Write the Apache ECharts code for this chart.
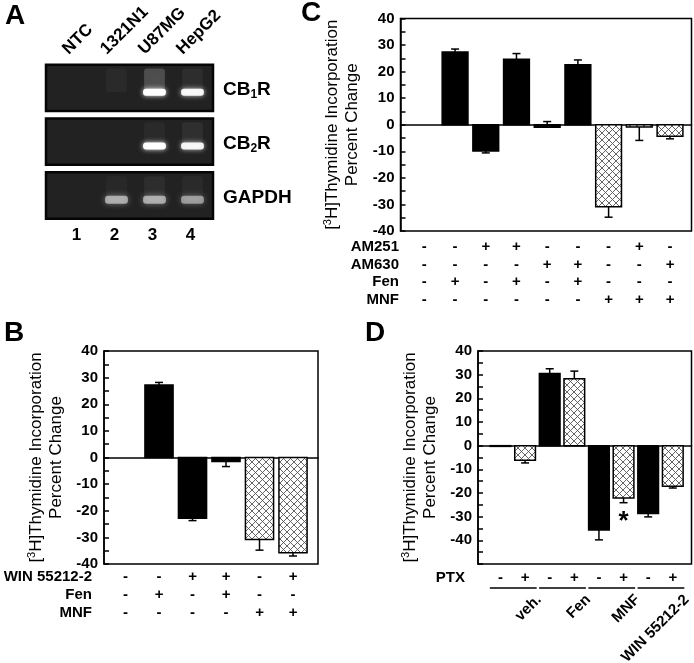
<!DOCTYPE html>
<html><head><meta charset="utf-8">
<script src="https://cdn.jsdelivr.net/npm/echarts@6/dist/echarts.min.js"></script>
<style>html,body{margin:0;padding:0;background:#fff}#c{width:694px;height:663px}</style>
</head><body><div id="c"></div>
<script>
// ---------------- data ----------------
const gelLanes = ['NTC', '1321N1', 'U87MG', 'HepG2'];
const gelLaneNumbers = ['1', '2', '3', '4'];
const gelGenes = ['CB1R', 'CB2R', 'GAPDH'];
const gelBandIntensity = [[0, 0, 1.0, 0.92], [0, 0, 1.0, 0.9], [0, 0.72, 0.72, 0.62]];
const gelSmear = [[0, 0.04, 0.18, 0.05], [0, 0, 0.04, 0.06], [0, 0.03, 0.05, 0.04]];

const bRowNames = ['WIN 55212-2', 'Fen', 'MNF'];
const bSigns = [
  ['-', '-', '+', '+', '-', '+'],
  ['-', '+', '-', '+', '-', '-'],
  ['-', '-', '-', '-', '+', '+']
];
const bValues = [0, 27.2, -22.8, -1.5, -30.8, -35.8];
const bErrorEnds = [0, 28.2, -23.7, -3.4, -34.8, -37.0];

const cRowNames = ['AM251', 'AM630', 'Fen', 'MNF'];
const cSigns = [
  ['-', '-', '+', '+', '-', '-', '-', '+', '-'],
  ['-', '-', '-', '-', '+', '+', '-', '-', '+'],
  ['-', '+', '-', '+', '-', '+', '-', '-', '-'],
  ['-', '-', '-', '-', '-', '-', '+', '+', '+']
];
const cValues = [0, 27.4, -9.9, 24.7, -0.9, 22.6, -30.9, -0.8, -4.3];
const cErrorEnds = [0, 28.5, -10.6, 26.8, 1.2, 24.4, -34.8, -5.9, -5.3];

const dRowNames = ['PTX'];
const dSigns = [['-', '+', '-', '+', '-', '+', '-', '+']];
const dGroups = ['veh.', 'Fen', 'MNF', 'WIN 55212-2'];
const dValues = [-0.3, -6.2, 30.5, 28.3, -35.6, -22.1, -28.7, -17.1];
const dErrorEnds = [-0.3, -7.3, 32.5, 31.5, -39.8, -24.1, -30.1, -17.9];
const dSignificance = ['', '', '', '', '', '*', '', ''];

const yTicksBC = { min: -40, max: 40, interval: 10 };
const yTicksD = { min: -50, max: 40, interval: 10 };

// ---------------- style / layout ----------------
const FONT = "'Liberation Sans', Arial, Helvetica, sans-serif";
const G = {
  A: { left: 46, top: 61, width: 167, height: 161.4 },
  B: { left: 104, top: 351, width: 214, height: 213 },
  C: { left: 400.5, top: 18.5, width: 291, height: 212.5 },
  D: { left: 478, top: 351, width: 213.5, height: 213 }
};
const XR = { A: [0.145, 4.54], B: [0.358, 6.746], C: [0.223, 9.7], D: [0.087, 8.76] };

function makeHatch() {
  const c = document.createElement('canvas');
  c.width = 7; c.height = 7;
  const g = c.getContext('2d');
  g.fillStyle = '#fff'; g.fillRect(0, 0, 7, 7);
  g.strokeStyle = '#555'; g.lineWidth = 0.9;
  g.beginPath();
  g.moveTo(-1, -1); g.lineTo(8, 8);
  g.moveTo(-1, 8); g.lineTo(8, -1);
  g.stroke();
  return c;
}
const hatch = { image: makeHatch(), repeat: 'repeat' };

function barRender(params, api) {
  const x = api.value(0), v = api.value(1), e = api.value(2), h = api.value(3);
  const p0 = api.coord([x, 0]);
  const p1 = api.coord([x, v]);
  const pe = api.coord([x, e]);
  const w = api.size([0.84, 0])[0];
  const ch = [];
  if (e !== v) {
    ch.push({ type: 'line', shape: { x1: p1[0], y1: p1[1], x2: pe[0], y2: pe[1] }, style: { stroke: '#000', lineWidth: 1.5 } });
    ch.push({ type: 'line', shape: { x1: pe[0] - 4, y1: pe[1], x2: pe[0] + 4, y2: pe[1] }, style: { stroke: '#000', lineWidth: 1.5 } });
  }
  if (v !== 0) {
    ch.push({
      type: 'rect',
      shape: { x: p0[0] - w / 2, y: Math.min(p0[1], p1[1]), width: w, height: Math.abs(p1[1] - p0[1]) },
      style: { fill: h ? hatch : '#000', stroke: '#000', lineWidth: 1.5 }
    });
  }
  return { type: 'group', children: ch };
}

function barSeries(gi, values, errs, hatchFlags) {
  return {
    type: 'custom', xAxisIndex: gi, yAxisIndex: gi, z: 3,
    renderItem: barRender,
    encode: { x: 0, y: 1 },
    data: values.map((v, i) => [i + 1, v, errs[i], hatchFlags[i] ? 1 : 0])
  };
}

// +/- table under a panel
function tableSeries(gi, rowNames, signs, yMin, rowStart, rowGap, labelDx, xMin) {
  const data = [];
  signs.forEach((row, r) => row.forEach((s, i) => data.push([i + 1, yMin, r, s, 0])));
  rowNames.forEach((n, r) => data.push([xMin, yMin, r, n, 1]));
  return {
    type: 'custom', xAxisIndex: gi, yAxisIndex: gi, z: 4,
    encode: { x: 0, y: 1 },
    renderItem: function (params, api) {
      const d = data[params.dataIndex];
      const p = api.coord([d[0], d[1]]);
      const y = p[1] + rowStart + d[2] * rowGap;
      if (d[4] === 1) {
        return { type: 'text', x: p[0] + labelDx, y: y, style: { text: d[3], fill: '#000', font: 'bold 15px ' + FONT, align: 'right', verticalAlign: 'middle' } };
      }
      return { type: 'text', x: p[0], y: y, style: { text: d[3], fill: '#000', font: 'bold 15px ' + FONT, align: 'center', verticalAlign: 'middle' } };
    },
    data: data
  };
}

const yName = '{n|[}{sup|3}{n|H]Thymidine Incorporation}\n{n|Percent Change}';
function yAxisFor(gi, t, showName) {
  return {
    type: 'value', gridIndex: gi, min: t.min, max: t.max, interval: t.interval,
    axisLine: { show: true, onZero: false, lineStyle: { color: '#000', width: 1.5 } },
    axisTick: { show: true, inside: true, length: 5, lineStyle: { color: '#000', width: 1.5 } },
    minorTick: { show: true, splitNumber: 2, length: 5, lineStyle: { color: '#000', width: 1.5 } },
    splitLine: { show: false }, minorSplitLine: { show: false },
    axisLabel: {
      show: true, margin: 6, color: '#000', fontSize: 15, fontWeight: 'bold', fontFamily: FONT,
      formatter: v => (v < -40 ? '' : String(v))
    },
    name: showName ? yName : '', nameLocation: 'middle', nameRotate: 90, nameGap: 38,
    nameTextStyle: {
      color: '#000', fontFamily: FONT, fontSize: 17, lineHeight: 20,
      rich: {
        n: { fontSize: 17, fontFamily: FONT, color: '#000', lineHeight: 20 },
        sup: { fontSize: 11, fontFamily: FONT, color: '#000', lineHeight: 20, verticalAlign: 'top' }
      }
    }
  };
}
function xAxisFor(gi, r, show) {
  return {
    type: 'value', gridIndex: gi, min: r[0], max: r[1],
    axisLine: { show: show, onZero: true, lineStyle: { color: '#000', width: 1.5 } },
    axisTick: { show: false }, axisLabel: { show: false }, splitLine: { show: false }
  };
}

// ---------------- gel (panel A) ----------------
const gelBoxData = gelGenes.map((g, r) => [XR.A[0], r + 1]);
const gelBandData = [];
gelBandIntensity.forEach((row, r) => row.forEach((v, l) => gelBandData.push([l + 1, r + 1, v, gelSmear[r][l]])));

const gelSeries = [
  {
    type: 'custom', xAxisIndex: 0, yAxisIndex: 0, z: 2, encode: { x: 0, y: 1 },
    data: gelBoxData,
    renderItem: function (params, api) {
      const cs = params.coordSys;
      const c = api.coord([0, api.value(1)]);
      const hh = api.size([0, 0.86])[1];
      const name = gelGenes[params.dataIndex];
      const m = name.match(/^(CB)(\d)(R)$/);
      const txt = m ? '{g|CB}{s|' + m[2] + '}{g|R}' : '{g|' + name + '}';
      return {
        type: 'group', children: [
          { type: 'rect', shape: { x: cs.x, y: c[1] - hh / 2, width: cs.width, height: hh }, style: { fill: '#222', stroke: '#050505', lineWidth: 2.5 } },
          {
            type: 'text', x: cs.x + cs.width + 10, y: c[1] + 2,
            style: {
              text: txt, fill: '#000', align: 'left', verticalAlign: 'middle',
              rich: {
                g: { fontSize: 19, fontWeight: 'bold', fontFamily: FONT, fill: '#000', lineHeight: 22 },
                s: { fontSize: 12, fontWeight: 'bold', fontFamily: FONT, fill: '#000', lineHeight: 22, padding: [9, 0, 0, 0] }
              }
            }
          }
        ]
      };
    }
  },
  {
    type: 'custom', xAxisIndex: 0, yAxisIndex: 0, z: 3, encode: { x: 0, y: 1 },
    data: gelBandData,
    renderItem: function (params, api) {
      const l = api.value(0), r = api.value(1), v = api.value(2), s = api.value(3);
      const c = api.coord([l, r + 0.08]);
      const top = api.coord([l, r - 0.36])[1];
      const w = api.size([0.6, 0])[0];
      const ch = [];
      if (s > 0) {
        ch.push({ type: 'rect', shape: { x: c[0] - w / 2 + 1, y: top, width: w - 2, height: c[1] - top, r: 3 },
          style: { fill: 'rgba(255,255,255,' + s + ')', shadowBlur: 8, shadowColor: 'rgba(255,255,255,' + s + ')' } });
      }
      if (v > 0) {
        const g = r === 3;
        ch.push({ type: 'rect', shape: { x: c[0] - w / 2, y: c[1] - (g ? 4 : 3.5), width: w, height: g ? 8 : 7, r: 3 },
          style: { fill: g ? 'rgba(205,205,205,' + v + ')' : 'rgba(255,255,255,' + v + ')', shadowBlur: g ? 6 : 5, shadowColor: g ? 'rgba(200,200,200,' + v + ')' : 'rgba(255,255,255,' + (0.9 * v) + ')' } });
      }
      return { type: 'group', children: ch };
    }
  },
  {
    type: 'custom', xAxisIndex: 0, yAxisIndex: 0, z: 4, encode: { x: 0, y: 1 },
    data: gelLanes.map((n, l) => [l + 1, 1]),
    renderItem: function (params, api) {
      const l = api.value(0);
      const pTop = api.coord([l, 0.55]);
      const pBot = api.coord([l, 3.45]);
      return {
        type: 'group', children: [
          { type: 'text', x: pTop[0] - 7, y: pTop[1] - 6, rotation: Math.PI / 4,
            style: { text: gelLanes[params.dataIndex], fill: '#000', font: 'bold 17px ' + FONT, align: 'left', verticalAlign: 'bottom' } },
          { type: 'text', x: pBot[0] - 2, y: pBot[1] + 16,
            style: { text: gelLaneNumbers[params.dataIndex], fill: '#000', font: 'bold 17px ' + FONT, align: 'center', verticalAlign: 'middle' } }
        ]
      };
    }
  }
];

// ---------------- panel D extras ----------------
const dGroupSeries = {
  type: 'custom', xAxisIndex: 3, yAxisIndex: 3, z: 4, encode: { x: 0, y: 1 },
  data: dGroups.map((g, i) => [2 * i + 1, yTicksD.min]),
  renderItem: function (params, api) {
    const a = api.value(0);
    const p1 = api.coord([a - 0.43, yTicksD.min]);
    const p2 = api.coord([a + 1 + 0.47, yTicksD.min]);
    const y = p1[1] + 24;
    return {
      type: 'group', children: [
        { type: 'line', shape: { x1: p1[0], y1: y, x2: p2[0], y2: y }, style: { stroke: '#000', lineWidth: 1.5 } },
        { type: 'text', x: p2[0] - 3, y: y + 4, rotation: Math.PI / 4,
          style: { text: dGroups[params.dataIndex], fill: '#000', font: 'bold 15px ' + FONT, align: 'right', verticalAlign: 'top' } }
      ]
    };
  }
};
const dSigSeries = {
  type: 'custom', xAxisIndex: 3, yAxisIndex: 3, z: 4, encode: { x: 0, y: 1 },
  data: dSignificance.map((s, i) => [i + 1, dErrorEnds[i]]),
  renderItem: function (params, api) {
    const s = dSignificance[params.dataIndex];
    if (!s) return { type: 'group', children: [] };
    const p = api.coord([api.value(0), api.value(1)]);
    return { type: 'text', x: p[0], y: p[1] + 19, style: { text: s, fill: '#000', font: 'bold 26px ' + FONT, align: 'center', verticalAlign: 'middle' } };
  }
};

const bHatch = bSigns[2].map(s => s === '+');
const cHatch = cSigns[3].map(s => s === '+');
const dHatch = dSigns[0].map(s => s === '+');

const gridBase = { show: true, borderColor: '#000', borderWidth: 1.5, backgroundColor: 'transparent', containLabel: false, outerBoundsMode: 'none' };

const option = {
  animation: false,
  backgroundColor: '#fff',
  textStyle: { fontFamily: FONT },
  grid: [
    Object.assign({}, gridBase, G.A, { show: false }),
    Object.assign({}, gridBase, G.B),
    Object.assign({}, gridBase, G.C),
    Object.assign({}, gridBase, G.D)
  ],
  xAxis: [
    Object.assign(xAxisFor(0, XR.A, false), { show: false }),
    xAxisFor(1, XR.B, true),
    xAxisFor(2, XR.C, true),
    xAxisFor(3, XR.D, true)
  ],
  yAxis: [
    { type: 'value', gridIndex: 0, min: 0.5, max: 3.5, inverse: true, show: false },
    yAxisFor(1, yTicksBC, true),
    yAxisFor(2, yTicksBC, true),
    yAxisFor(3, yTicksD, true)
  ],
  graphic: [
    { type: 'text', x: 5, y: 2, style: { text: 'A', font: 'bold 28px ' + FONT, fill: '#000' } },
    { type: 'text', x: 4, y: 319, style: { text: 'B', font: 'bold 28px ' + FONT, fill: '#000' } },
    { type: 'text', x: 301, y: -1, style: { text: 'C', font: 'bold 28px ' + FONT, fill: '#000' } },
    { type: 'text', x: 365, y: 319, style: { text: 'D', font: 'bold 28px ' + FONT, fill: '#000' } }
  ],
  series: [].concat(
    gelSeries,
    [
      barSeries(1, bValues, bErrorEnds, bHatch),
      barSeries(2, cValues, cErrorEnds, cHatch),
      barSeries(3, dValues, dErrorEnds, dHatch),
      tableSeries(1, bRowNames, bSigns, yTicksBC.min, 13, 18, -12, XR.B[0]),
      tableSeries(2, cRowNames, cSigns, yTicksBC.min, 16, 17.5, -1.5, XR.C[0]),
      tableSeries(3, dRowNames, dSigns, yTicksD.min, 14, 18, -13, XR.D[0]),
      dGroupSeries,
      dSigSeries
    ]
  )
};

const chart = echarts.init(document.getElementById('c'), null, { renderer: 'canvas' });
chart.setOption(option);
</script>
</body></html>
